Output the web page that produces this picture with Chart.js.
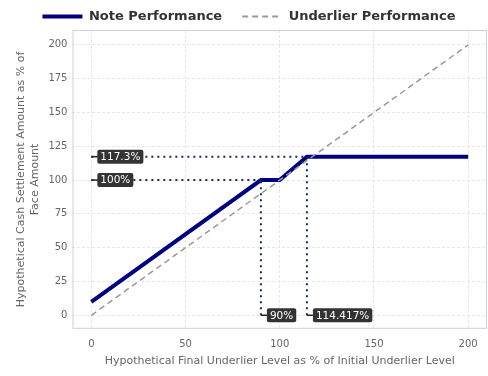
<!DOCTYPE html>
<html><head><meta charset="utf-8">
<script src="https://cdn.jsdelivr.net/npm/chart.js@4.4.1/dist/chart.umd.min.js"></script>
<style>html,body{margin:0;padding:0;background:#fff}#wrap{width:488px;height:376px}</style>
</head><body><div id="wrap"><canvas id="c"></canvas></div>
<script>
const noteX = [0, 90, 100, 114.417, 200];
const noteY = [10, 100, 100, 117.3, 117.3];
const underX = [0, 200];
const underY = [0, 200];
const capX = 114.417, capY = 117.3;
const floorX = 90, floorY = 100;
const tickValues = [0, 25, 50, 75, 100, 125, 150, 175, 200];
const xTickValues = [0, 50, 100, 150, 200];
const labelsData = [
  {x: 0, y: capY, text: '117.3%'},
  {x: 0, y: floorY, text: '100%'},
  {x: floorX, y: 0, text: '90%'},
  {x: capX, y: 0, text: '114.417%'}
];
const pts = (xs, ys) => xs.map((x, i) => ({x, y: ys[i]}));
const dotted = {borderColor: '#1a2a55', borderWidth: 2, borderDash: [2, 4], pointRadius: 0, fill: false, helper: true};

const annot = {
  id: 'annot',
  beforeDatasetsDraw(chart) {
    const {ctx, chartArea: a} = chart;
    ctx.save();
    ctx.strokeStyle = '#ccd0dc';
    ctx.lineWidth = 1;
    ctx.strokeRect(a.left + 0.5, a.top + 0.5, a.right - a.left - 1, a.bottom - a.top - 1);
    ctx.restore();
  },
  afterDatasetsDraw(chart) {
    const {ctx, scales: {x, y}} = chart;
    ctx.save();
    ctx.font = '10.5px "DejaVu Sans"';
    ctx.textBaseline = 'middle';
    labelsData.forEach(l => {
      const px = x.getPixelForValue(l.x), py = y.getPixelForValue(l.y);
      const w = ctx.measureText(l.text).width + 6, h = 14, bx = px + 6;
      ctx.strokeStyle = '#222'; ctx.lineWidth = 1.5;
      ctx.beginPath(); ctx.moveTo(px, py); ctx.lineTo(bx, py); ctx.stroke();
      ctx.fillStyle = '#333';
      ctx.beginPath(); ctx.roundRect(bx, py - h / 2, w, h, 2); ctx.fill();
      ctx.fillStyle = '#fff';
      ctx.fillText(l.text, bx + 3, py + 0.5);
    });
    ctx.restore();
  }
};

new Chart(document.getElementById('c'), {
  type: 'scatter',
  data: {datasets: [
    Object.assign({label: 'cap-h', data: pts([0, capX], [capY, capY])}, dotted),
    Object.assign({label: 'floor-h', data: pts([0, floorX], [floorY, floorY])}, dotted),
    Object.assign({label: 'floor-v', data: pts([floorX, floorX], [0, floorY])}, dotted),
    Object.assign({label: 'cap-v', data: pts([capX, capX], [0, capY])}, dotted),
    {label: 'Underlier Performance', data: pts(underX, underY), showLine: true, borderColor: '#999', backgroundColor: '#999', borderWidth: 1.5, borderDash: [6, 4], pointRadius: 0},
    {label: 'Note Performance', data: pts(noteX, noteY), showLine: true, borderColor: '#000080', backgroundColor: '#000080', borderWidth: 4, pointRadius: 0}
  ].map(d => Object.assign({showLine: true}, d))},
  options: {
    responsive: true, maintainAspectRatio: false, animation: false,
    layout: {padding: {left: 11, right: 1, top: -10, bottom: 8}},
    plugins: {
      tooltip: {enabled: false},
      legend: {
        position: 'top',
        reverse: true,
        maxHeight: 40,
        labels: {
          filter: (item, data) => !data.datasets[item.datasetIndex].helper,
          generateLabels: chart => chart.data.datasets.map((d, i) => ({
            text: d.label, datasetIndex: i, strokeStyle: d.borderColor, fillStyle: d.borderColor,
            lineWidth: d.label === 'Note Performance' ? 4 : 2, lineDash: d.borderDash || [], pointStyle: 'line',
            fontColor: '#333', hidden: false
          })),
          usePointStyle: true, pointStyle: 'line', pointStyleWidth: 40,
          color: '#333', font: {family: 'DejaVu Sans', size: 13, weight: 'bold'},
          padding: 20
        }
      }
    },
    scales: {
      x: {
        type: 'linear', min: -10, max: 210,
        afterBuildTicks: s => { s.ticks = xTickValues.map(v => ({value: v})); },
        afterFit: s => { s.height -= 6; },
        grid: {color: '#e6e6e6', drawTicks: false},
        border: {display: false, dash: [3, 2]},
        ticks: {color: '#666', font: {family: 'DejaVu Sans', size: 10}, padding: 10},
        title: {display: true, text: 'Hypothetical Final Underlier Level as % of Initial Underlier Level', color: '#666', font: {family: 'DejaVu Sans', size: 11}, padding: {top: 0, bottom: 0}}
      },
      y: {
        type: 'linear', min: -10, max: 211,
        afterBuildTicks: s => { s.ticks = tickValues.map(v => ({value: v})); },
        grid: {color: '#e6e6e6', drawTicks: false},
        border: {display: false, dash: [3, 2]},
        ticks: {color: '#666', font: {family: 'DejaVu Sans', size: 10}, padding: 5},
        title: {display: true, text: ['Hypothetical Cash Settlement Amount as % of', 'Face Amount'], color: '#666', font: {family: 'DejaVu Sans', size: 11}, padding: {bottom: 2}}
      }
    }
  },
  plugins: [annot]
});
</script></body></html>
